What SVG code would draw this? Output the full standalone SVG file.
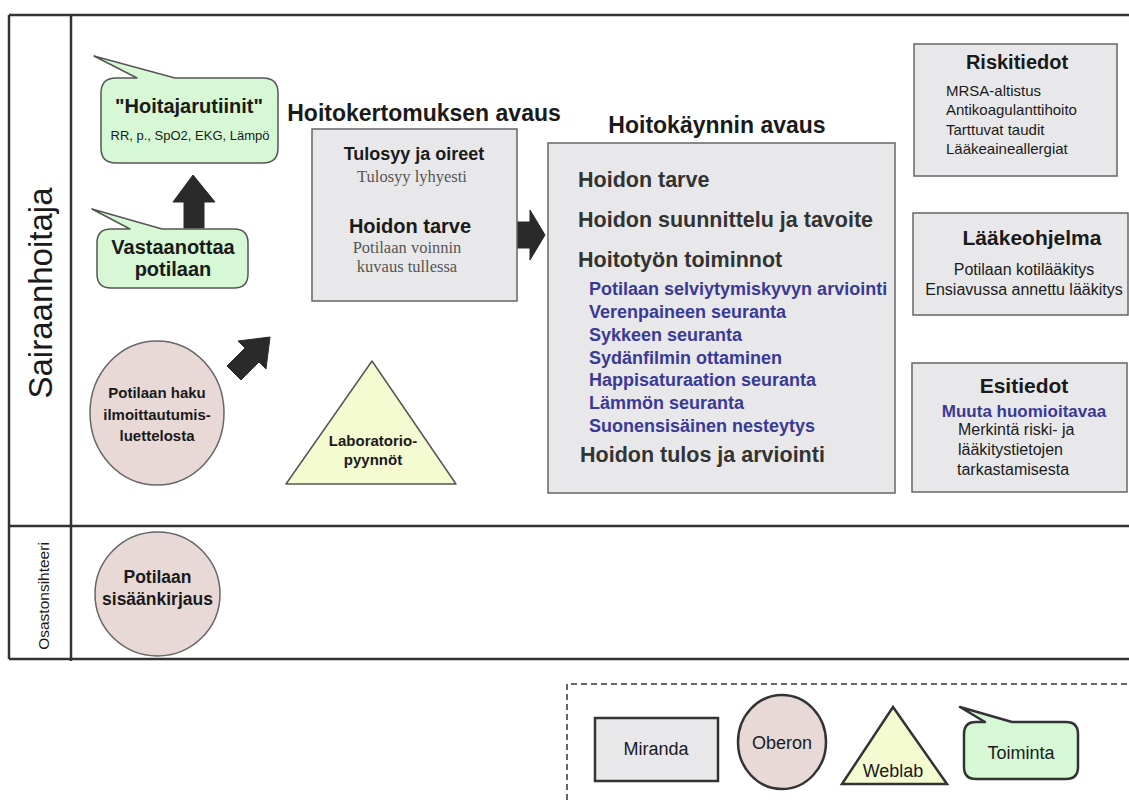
<svg xmlns="http://www.w3.org/2000/svg" width="1129" height="800" viewBox="0 0 1129 800">
<style>
  text { font-family: "Liberation Sans", Arial, sans-serif; fill: #1a1a1a; }
  .b { font-weight: bold; }
  .c { text-anchor: middle; }
  .serif { font-family: "Liberation Serif", "Times New Roman", serif; fill: #555; }
  .blue { fill: #3a3a96; font-weight: bold; font-size: 18px; }
  .head { font-weight: bold; font-size: 21.5px; fill: #333; }
  .lane { stroke: #333; stroke-width: 2.5; fill: none; }
  .box { fill: #e8e8ea; stroke: #666; stroke-width: 1.5; }
  .bubble { fill: #d6f8d4; stroke: #555; stroke-width: 1.5; stroke-linejoin: round; }
  .oberon { fill: #e8d9d6; stroke: #666; stroke-width: 1.5; }
  .weblab { fill: #f5fbd0; stroke: #555; stroke-width: 1.5; stroke-linejoin: round; }
  .arrow { fill: #2a2a2a; stroke: #2a2a2a; stroke-width: 1; stroke-linejoin: round; }
  .leg { stroke: #333; stroke-width: 2.5; }
</style>

<g id="lanes">
  <line class="lane" x1="9" y1="15" x2="1129" y2="15"/>
  <line class="lane" x1="9" y1="526" x2="1129" y2="526"/>
  <line class="lane" x1="9" y1="659" x2="1129" y2="659"/>
  <line class="lane" x1="9" y1="15" x2="9" y2="659"/>
  <line class="lane" x1="71" y1="15" x2="71" y2="661"/>
  <text transform="translate(52,293) rotate(-90)" class="c" font-size="33">Sairaanhoitaja</text>
  <text transform="translate(49,596) rotate(-90)" class="c" font-size="15.5">Osastonsihteeri</text>
</g>

<g id="connectors">
  <polygon class="arrow" points="193,175 215,202 204,202 204,228 184,228 184,202 173,202"/>
  <polygon class="arrow" points="545,235 530,210 530,222 517,222 517,248 530,248 530,260"/>
  <polygon class="arrow" points="270,337 266,369 259,362 241,380 227,366 245,348 238,341"/>
</g>

<g id="hoitajarutiinit">
  <path class="bubble" d="M116 78 L137 78 L94 56 L175 78 L263 78 Q278 78 278 93 L278 148 Q278 163 263 163 L116 163 Q101 163 101 148 L101 93 Q101 78 116 78 Z"/>
  <text x="189" y="113" class="b c" font-size="20">"Hoitajarutiinit"</text>
  <text x="190" y="140" class="c" font-size="13">RR, p., SpO2, EKG, Lämpö</text>
</g>

<g id="vastaanottaa">
  <path class="bubble" d="M111 229 L130 229 L92 209 L162 229 L234 229 Q248 229 248 243 L248 274 Q248 288 234 288 L111 288 Q97 288 97 274 L97 243 Q97 229 111 229 Z"/>
  <text x="173" y="254" class="b c" font-size="20">Vastaanottaa</text>
  <text x="173" y="276" class="b c" font-size="20">potilaan</text>
</g>

<g id="hoitokertomus">
  <text x="424" y="121" class="b c" font-size="23">Hoitokertomuksen avaus</text>
  <rect class="box" x="312" y="129" width="205" height="172"/>
  <text x="414" y="160" class="b c" font-size="18">Tulosyy ja oireet</text>
  <text x="412" y="182" class="serif c" font-size="16.5">Tulosyy lyhyesti</text>
  <text x="410" y="233" class="b c" font-size="20">Hoidon tarve</text>
  <text x="407" y="253" class="serif c" font-size="16.5">Potilaan voinnin</text>
  <text x="407" y="272" class="serif c" font-size="16.5">kuvaus tullessa</text>
</g>

<g id="hoitokaynti">
  <text x="717" y="133" class="b c" font-size="23">Hoitokäynnin avaus</text>
  <rect class="box" x="548" y="143" width="347" height="350"/>
  <text x="578" y="187" class="head">Hoidon tarve</text>
  <text x="578" y="227" class="head">Hoidon suunnittelu ja tavoite</text>
  <text x="578" y="267" class="head">Hoitotyön toiminnot</text>
  <text x="589" y="295" class="blue">Potilaan selviytymiskyvyn arviointi</text>
  <text x="589" y="318" class="blue">Verenpaineen seuranta</text>
  <text x="589" y="341" class="blue">Sykkeen seuranta</text>
  <text x="589" y="364" class="blue">Sydänfilmin ottaminen</text>
  <text x="589" y="386" class="blue">Happisaturaation seuranta</text>
  <text x="589" y="409" class="blue">Lämmön seuranta</text>
  <text x="589" y="432" class="blue">Suonensisäinen nesteytys</text>
  <text x="580" y="462" class="head">Hoidon tulos ja arviointi</text>
</g>

<g id="riskitiedot">
  <rect class="box" x="914" y="44" width="203" height="132"/>
  <text x="1017" y="69" class="b c" font-size="20">Riskitiedot</text>
  <text x="946" y="96" font-size="15">MRSA-altistus</text>
  <text x="946" y="115" font-size="15">Antikoagulanttihoito</text>
  <text x="946" y="135" font-size="15">Tarttuvat taudit</text>
  <text x="946" y="154" font-size="15">Lääkeaineallergiat</text>
</g>

<g id="laakeohjelma">
  <rect class="box" x="913" y="213" width="215" height="102"/>
  <text x="1032" y="245" class="b c" font-size="21">Lääkeohjelma</text>
  <text x="1024" y="275" class="c" font-size="16">Potilaan kotilääkitys</text>
  <text x="1024" y="295" class="c" font-size="16">Ensiavussa annettu lääkitys</text>
</g>

<g id="esitiedot">
  <rect class="box" x="912" y="363" width="215" height="129"/>
  <text x="1024" y="393" class="b c" font-size="21">Esitiedot</text>
  <text x="1024" y="417" class="c" font-size="17" fill="#3a3a96" style="fill:#3a3a96;font-weight:bold">Muuta huomioitavaa</text>
  <text x="958" y="435" font-size="16">Merkintä riski- ja</text>
  <text x="958" y="455" font-size="16">lääkitystietojen</text>
  <text x="957" y="475" font-size="16">tarkastamisesta</text>
</g>

<g id="potilaan-haku">
  <ellipse class="oberon" cx="157" cy="413" rx="67" ry="72"/>
  <text x="157" y="398" class="b c" font-size="15">Potilaan haku</text>
  <text x="157" y="420" class="b c" font-size="15">ilmoittautumis-</text>
  <text x="157" y="441" class="b c" font-size="15">luettelosta</text>
</g>

<g id="laboratorio">
  <polygon class="weblab" points="372,361 456,484 286,484"/>
  <text x="373" y="446" class="b c" font-size="15">Laboratorio-</text>
  <text x="373" y="465" class="b c" font-size="15">pyynnöt</text>
</g>

<g id="sisaankirjaus">
  <ellipse class="oberon" cx="157.5" cy="594" rx="62.5" ry="62"/>
  <text x="157.5" y="583" class="b c" font-size="17.5">Potilaan</text>
  <text x="157.5" y="605" class="b c" font-size="17.5">sisäänkirjaus</text>
</g>

<g id="legend">
  <path d="M567 800 L567 684 L1129 684" fill="none" stroke="#333" stroke-width="1.5" stroke-dasharray="6,4"/>
  <g id="legend-miranda">
    <rect x="595" y="718" width="123" height="63" fill="#e8e8ea" class="leg"/>
    <text x="656" y="755" class="c" font-size="18">Miranda</text>
  </g>
  <g id="legend-oberon">
    <ellipse cx="782" cy="742" rx="44" ry="47" fill="#e8d9d6" class="leg"/>
    <text x="782" y="749" class="c" font-size="18">Oberon</text>
  </g>
  <g id="legend-weblab">
    <polygon points="893,707 947,784 842,784" fill="#f5fbd0" class="leg" stroke-linejoin="miter"/>
    <text x="893" y="777" class="c" font-size="18">Weblab</text>
  </g>
  <g id="legend-toiminta">
    <path d="M976 722 L985 722 L960 707 L1012 722 L1066 722 Q1078 722 1078 734 L1078 767 Q1078 779 1066 779 L976 779 Q964 779 964 767 L964 734 Q964 722 976 722 Z" fill="#d6f8d4" class="leg" stroke-linejoin="round"/>
    <text x="1021" y="759" class="c" font-size="18">Toiminta</text>
  </g>
</g>
</svg>
